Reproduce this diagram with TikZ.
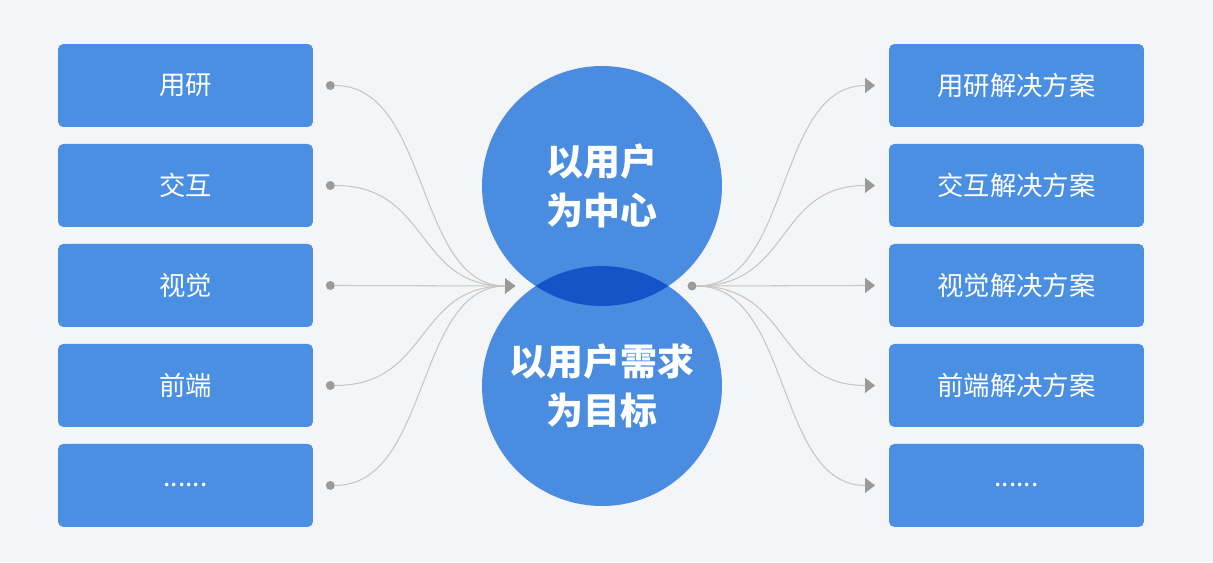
\documentclass[tikz,border=0pt]{standalone}
\usepackage{fontspec}
\setmainfont{Noto Sans CJK SC}
\usepackage{xcolor}
\usetikzlibrary{arrows.meta, positioning}

\definecolor{paper}{HTML}{F4F5F7}
\definecolor{boxblue}{HTML}{4A8FE2}
\definecolor{ballblue}{HTML}{4A8DE0}
\definecolor{lensblue}{HTML}{1553C9}
\definecolor{linegray}{HTML}{C6C6C6}
\definecolor{tipgray}{HTML}{9A9A9A}

\begin{document}
\begin{tikzpicture}[
  x=0.02cm, y=-0.02cm,
  node distance=3.4mm,
  every node/.style={font=\fontsize{15}{18}\selectfont},
  box/.style={rectangle, rounded corners=3pt, fill=boxblue, text=white, minimum width=5.1cm, minimum height=1.66cm, inner sep=0pt, outer sep=0pt},
  ball/.style={circle, fill=ballblue, minimum size=4.8cm, inner sep=0pt, text=white, align=center, font=\fontsize{21}{28}\selectfont\bfseries},
  dot/.style={circle, fill=tipgray, minimum size=1.8mm, inner sep=0pt},
  link/.style={draw=linegray, line width=0.6pt, -{Triangle[length=2mm, width=3mm, color=tipgray]}}
]
  \fill[paper] (0,0) rectangle (1213,562);
  \useasboundingbox (0,0) rectangle (1213,562);

  % left column
  \node[box] (yanjiu) at (185.5,85.5) {用研};
  \node[box, below=of yanjiu] (jiaohu) {交互};
  \node[box, below=of jiaohu] (shijue) {视觉};
  \node[box, below=of shijue] (qianduan) {前端};
  \node[box, below=of qianduan] (more) {......};

  \node[dot, right=2.5mm of yanjiu] (d1) {};
  \node[dot, right=2.5mm of jiaohu] (d2) {};
  \node[dot, right=2.5mm of shijue] (d3) {};
  \node[dot, right=2.5mm of qianduan] (d4) {};
  \node[dot, right=2.5mm of more] (d5) {};

  % right column
  \node[box] (yanjiufa) at (1016.5,85.5) {用研解决方案};
  \node[box, below=of yanjiufa] (jiaohufa) {交互解决方案};
  \node[box, below=of jiaohufa] (shijuefa) {视觉解决方案};
  \node[box, below=of shijuefa] (qianduanfa) {前端解决方案};
  \node[box, below=of qianduanfa] (morefa) {......};

  \coordinate[left=2.8mm of yanjiufa] (t1);
  \coordinate[left=2.8mm of jiaohufa] (t2);
  \coordinate[left=2.8mm of shijuefa] (t3);
  \coordinate[left=2.8mm of qianduanfa] (t4);
  \coordinate[left=2.8mm of morefa] (t5);

  % centre
  \node[ball] (focus) at (602,186) {以用户\\为中心};
  \node[ball] (goal) at (602,386) {以用户需求\\为目标};
  \begin{scope}
    \clip (focus.center) circle (2.4cm);
    \fill[lensblue] (goal.center) circle (2.4cm);
  \end{scope}

  \coordinate (hubin) at (515,286);
  \node[dot] (hubout) at (692,286) {};

  \draw[link] (d1) .. controls +(100,0) and +(-100,0) .. (hubin);
  \draw[link] (d2) .. controls +(100,0) and +(-100,0) .. (hubin);
  \draw[link] (d3) -- (hubin);
  \draw[link] (d4) .. controls +(100,0) and +(-100,0) .. (hubin);
  \draw[link] (d5) .. controls +(100,0) and +(-100,0) .. (hubin);

  \draw[link] (hubout) .. controls +(100,0) and +(-100,0) .. (t1);
  \draw[link] (hubout) .. controls +(100,0) and +(-100,0) .. (t2);
  \draw[link] (hubout) -- (t3);
  \draw[link] (hubout) .. controls +(100,0) and +(-100,0) .. (t4);
  \draw[link] (hubout) .. controls +(100,0) and +(-100,0) .. (t5);
\end{tikzpicture}
\end{document}
